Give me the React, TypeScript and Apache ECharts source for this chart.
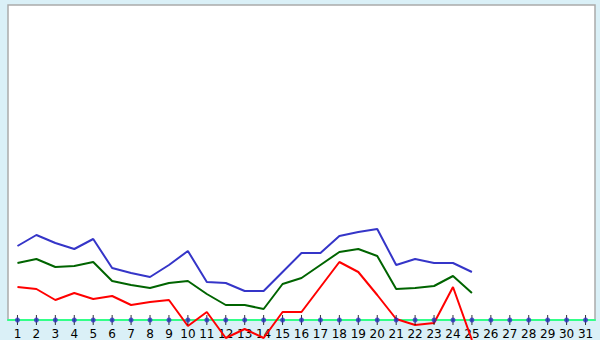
import React, { useEffect, useRef } from "react";
import * as echarts from "echarts";

const days = Array.from({ length: 31 }, (_, i) => String(i + 1));
const blueValues = [74, 85, 77, 71, 81, 52, 47, 43, 55, 69, 38, 37, 29, 29, 48, 67, 67, 84, 88, 91, 55, 61, 57, 57, 48];
const greenValues = [57, 61, 53, 54, 58, 39, 35, 32, 37, 39, 26, 15, 15, 11, 36, 42, 55, 68, 71, 64, 31, 32, 34, 44, 27];
const redValues = [33, 31, 20, 27, 21, 24, 15, 18, 20, -6, 8, -18, -9, -18, 8, 8, 33, 58, 48, 25, 1, -5, -3, 33, -20];
const tickMarks = days.map(() => 0);

export default function App() {
  const ref = useRef<HTMLDivElement>(null);
  useEffect(() => {
    if (!ref.current) return;
    const chart = echarts.init(ref.current, null, { renderer: "svg" });
    const line = (data: number[], color: string, z: number) => ({
      type: "line",
      data,
      symbol: "none",
      clip: false,
      z,
      lineStyle: { color, width: 2 },
    });
    chart.setOption({
      animation: false,
      backgroundColor: "#daf0f7",
      grid: {
        left: 8,
        right: 5,
        top: 5,
        bottom: 20,
        show: true,
        backgroundColor: "#ffffff",
        borderColor: "#aaaaaa",
        borderWidth: 1.5,
      },
      xAxis: {
        type: "category",
        data: days,
        boundaryGap: true,
        axisLine: { lineStyle: { color: "#33ff88", width: 2 } },
        axisTick: { show: false },
        axisLabel: { color: "#000000", fontFamily: "DejaVu Sans", fontSize: 12, margin: 8, interval: 0 },
        splitLine: { show: false },
      },
      yAxis: {
        type: "value",
        min: 0,
        max: 315,
        show: false,
        splitLine: { show: false },
      },
      series: [
        line(blueValues, "#3535c8", 3),
        line(greenValues, "#006400", 4),
        line(redValues, "#ff0000", 5),
        {
          type: "scatter",
          data: tickMarks,
          symbol: "rect",
          symbolSize: [1, 10],
          z: 6,
          itemStyle: { color: "#000000" },
          silent: true,
        },
        {
          type: "scatter",
          data: tickMarks,
          symbol: "circle",
          symbolSize: 5,
          z: 7,
          itemStyle: { color: "#3030c0" },
          silent: true,
        },
      ],
    });
    return () => chart.dispose();
  }, []);
  return <div ref={ref} style={{ width: 600, height: 340, position: "absolute", left: 0, top: 0 }} />;
}
